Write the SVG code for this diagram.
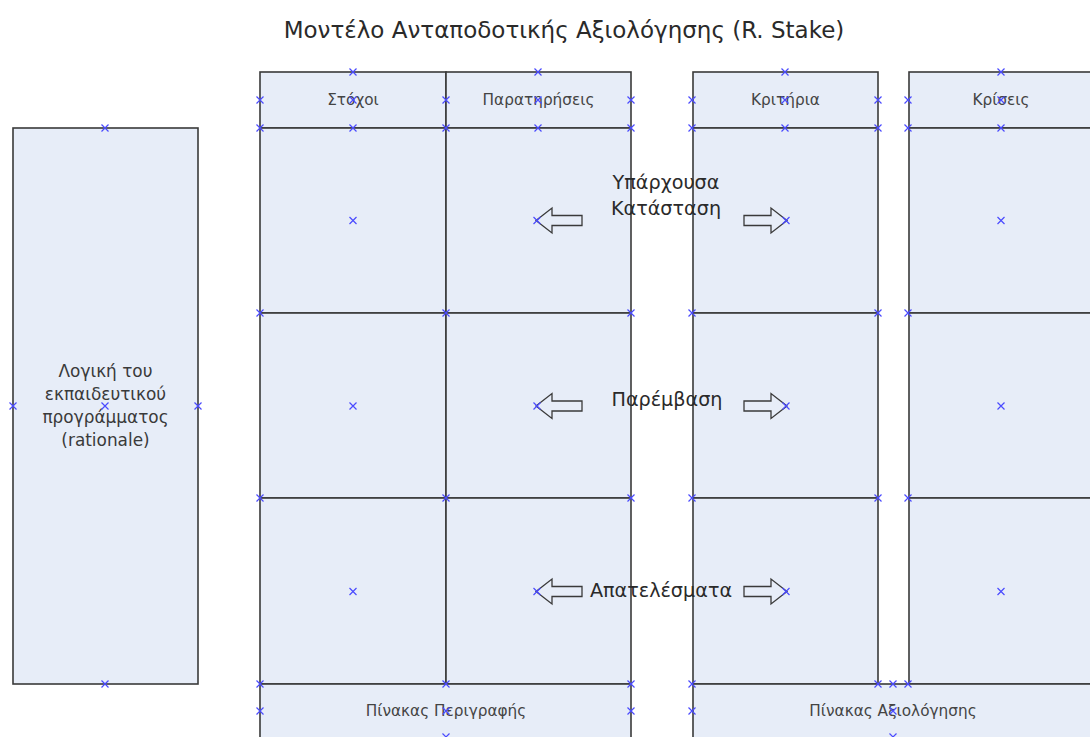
<svg xmlns="http://www.w3.org/2000/svg" xmlns:xlink="http://www.w3.org/1999/xlink" width="1090" height="737" viewBox="0 0 1090 737">
<style>
.box{fill:#E7EDF8;stroke:#3a3a3a;stroke-width:1.6}
.arr{fill:#E7EDF8;stroke:#3a3a3a;stroke-width:1.3;stroke-linejoin:miter}
.t{font-family:"DejaVu Sans","Liberation Sans",Arial,sans-serif;text-anchor:middle;fill:#333}
.hd{font-size:15.3px;fill:#444}
.lb{font-size:19.2px;fill:#2a2a2a}
.lf{font-size:16.9px;fill:#3a3a3a}
.ti{font-size:23px;fill:#2a2a2a}
</style>
<defs>
<symbol id="x" overflow="visible"><path d="M-3.5,-3.5L3.5,3.5M-3.5,3.5L3.5,-3.5" stroke="#4a4aff" stroke-width="1.2" fill="none"/></symbol>
</defs>
<rect width="1090" height="737" fill="#fff"/>
<text id="title" class="t ti" x="564" y="38">Μοντέλο Ανταποδοτικής Αξιολόγησης (R. Stake)</text>

<g id="rationale">
<rect class="box" x="13" y="128" width="185" height="556"/>
<text class="t lf" x="105.5" y="377">Λογική του</text>
<text class="t lf" x="105.5" y="400">εκπαιδευτικού</text>
<text class="t lf" x="105.5" y="423">προγράμματος</text>
<text class="t lf" x="105.5" y="446">(rationale)</text>
</g>

<g id="table-description">
<g id="h-stoxoi"><rect class="box" x="260" y="72" width="186" height="56"/><text class="t hd" x="353" y="105">Στόχοι</text></g>
<g id="h-parat"><rect class="box" x="446" y="72" width="185" height="56"/><text class="t hd" x="538.5" y="105">Παρατηρήσεις</text></g>
<rect class="box" x="260" y="128" width="186" height="185"/>
<rect class="box" x="446" y="128" width="185" height="185"/>
<rect class="box" x="260" y="313" width="186" height="185"/>
<rect class="box" x="446" y="313" width="185" height="185"/>
<rect class="box" x="260" y="498" width="186" height="186"/>
<rect class="box" x="446" y="498" width="185" height="186"/>
<g id="b-perigrafis"><rect class="box" x="260" y="684" width="371" height="54"/><text class="t hd" x="446" y="716">Πίνακας Περιγραφής</text></g>
</g>

<g id="table-criteria">
<g id="h-kritiria"><rect class="box" x="693" y="72" width="185" height="56"/><text class="t hd" x="785.5" y="105">Κριτήρια</text></g>
<rect class="box" x="693" y="128" width="185" height="185"/>
<rect class="box" x="693" y="313" width="185" height="185"/>
<rect class="box" x="693" y="498" width="185" height="186"/>
</g>

<g id="table-judgements">
<g id="h-kriseis"><rect class="box" x="909" y="72" width="185" height="56"/><text class="t hd" x="1001" y="105">Κρίσεις</text></g>
<rect class="box" x="909" y="128" width="185" height="185"/>
<rect class="box" x="909" y="313" width="185" height="185"/>
<rect class="box" x="909" y="498" width="185" height="186"/>
</g>

<g id="b-aksiologisis"><rect class="box" x="693" y="684" width="400" height="54"/><text class="t hd" x="893" y="716">Πίνακας Αξιολόγησης</text></g>

<g id="labels">
<text class="t lb" x="666" y="189">Υπάρχουσα</text>
<text class="t lb" x="666" y="215">Κατάσταση</text>
<text class="t lb" x="667" y="406">Παρέμβαση</text>
<text class="t lb" x="661" y="597">Απατελέσματα</text>
</g>

<g id="connectors">
<path class="arr" d="M536,220.5L552,208V215.5H582V225.5H552V233Z"/>
<path class="arr" d="M787,220.5L771,208V215.5H744V225.5H771V233Z"/>
<path class="arr" d="M536,406L552,393.5V401H582V411H552V418.5Z"/>
<path class="arr" d="M787,406L771,393.5V401H744V411H771V418.5Z"/>
<path class="arr" d="M536,591.5L552,579V586.5H582V596.5H552V604Z"/>
<path class="arr" d="M787,591.5L771,579V586.5H744V596.5H771V604Z"/>
</g>

<g id="connection-points">
<use xlink:href="#x" x="105" y="128"/><use xlink:href="#x" x="13" y="406"/><use xlink:href="#x" x="105" y="406"/><use xlink:href="#x" x="198" y="406"/><use xlink:href="#x" x="105" y="684"/>
<use xlink:href="#x" x="353" y="72"/><use xlink:href="#x" x="538" y="72"/><use xlink:href="#x" x="785" y="72"/><use xlink:href="#x" x="1001" y="72"/>
<use xlink:href="#x" x="260" y="100"/><use xlink:href="#x" x="353" y="100"/><use xlink:href="#x" x="446" y="100"/><use xlink:href="#x" x="538" y="100"/><use xlink:href="#x" x="631" y="100"/>
<use xlink:href="#x" x="692" y="100"/><use xlink:href="#x" x="785" y="100"/><use xlink:href="#x" x="878" y="100"/><use xlink:href="#x" x="908" y="100"/><use xlink:href="#x" x="1001" y="100"/>
<use xlink:href="#x" x="260" y="128"/><use xlink:href="#x" x="353" y="128"/><use xlink:href="#x" x="446" y="128"/><use xlink:href="#x" x="538" y="128"/><use xlink:href="#x" x="631" y="128"/>
<use xlink:href="#x" x="692" y="128"/><use xlink:href="#x" x="785" y="128"/><use xlink:href="#x" x="878" y="128"/><use xlink:href="#x" x="908" y="128"/><use xlink:href="#x" x="1001" y="128"/>
<use xlink:href="#x" x="353" y="220.5"/><use xlink:href="#x" x="537" y="220.5"/><use xlink:href="#x" x="786" y="220.5"/><use xlink:href="#x" x="1001" y="220.5"/>
<use xlink:href="#x" x="353" y="406"/><use xlink:href="#x" x="537" y="406"/><use xlink:href="#x" x="786" y="406"/><use xlink:href="#x" x="1001" y="406"/>
<use xlink:href="#x" x="353" y="591.5"/><use xlink:href="#x" x="537" y="591.5"/><use xlink:href="#x" x="786" y="591.5"/><use xlink:href="#x" x="1001" y="591.5"/>
<use xlink:href="#x" x="260" y="313"/><use xlink:href="#x" x="446" y="313"/><use xlink:href="#x" x="631" y="313"/><use xlink:href="#x" x="692" y="313"/><use xlink:href="#x" x="878" y="313"/><use xlink:href="#x" x="908" y="313"/>
<use xlink:href="#x" x="260" y="498"/><use xlink:href="#x" x="446" y="498"/><use xlink:href="#x" x="631" y="498"/><use xlink:href="#x" x="692" y="498"/><use xlink:href="#x" x="878" y="498"/><use xlink:href="#x" x="908" y="498"/>
<use xlink:href="#x" x="260" y="684"/><use xlink:href="#x" x="446" y="684"/><use xlink:href="#x" x="631" y="684"/><use xlink:href="#x" x="692" y="684"/><use xlink:href="#x" x="878" y="684"/><use xlink:href="#x" x="893" y="684"/><use xlink:href="#x" x="908" y="684"/>
<use xlink:href="#x" x="260" y="711"/><use xlink:href="#x" x="446" y="711"/><use xlink:href="#x" x="631" y="711"/><use xlink:href="#x" x="692" y="711"/><use xlink:href="#x" x="893" y="711"/>
<use xlink:href="#x" x="446" y="737"/><use xlink:href="#x" x="893" y="737"/>
</g>
</svg>
